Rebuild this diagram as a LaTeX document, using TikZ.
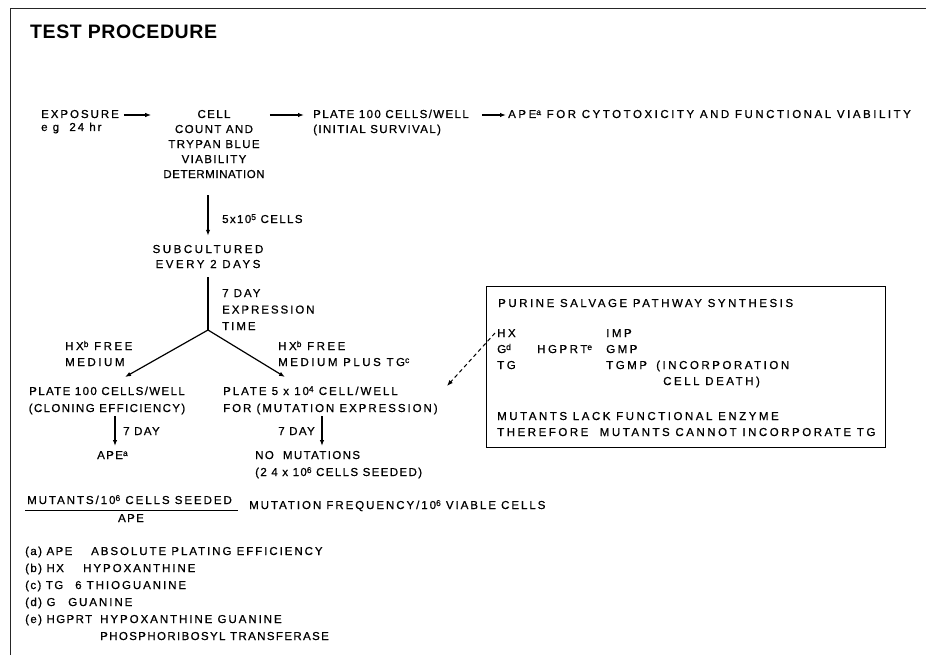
\documentclass[tikz,border=0pt]{standalone}
\usepackage{fontspec}
\setmainfont{Liberation Sans}
% three trackings of the same medium-weight face
\newfontfamily\mainfnt{Liberation Sans}[LetterSpace=12, FakeBold=0.8]
\newfontfamily\midfnt{Liberation Sans}[LetterSpace=17, FakeBold=0.8]
\newfontfamily\widefnt{Liberation Sans}[LetterSpace=22, FakeBold=0.8]
\newfontfamily\titlefnt{Liberation Sans}[LetterSpace=3]
\usetikzlibrary{arrows.meta,calc}
\newcommand\sps[1]{\raisebox{3pt}{\fontsize{8.5}{9}\selectfont #1}}
% footnote key set in a fixed-width slot
\newcommand\fnkey[2]{\makebox[#1][l]{\mainfnt #2}}

\begin{document}
\begin{tikzpicture}[x=1pt,y=-1pt,
  txt/.style={inner sep=0pt, anchor=base west, align=left,
              font=\mainfnt\fontsize{11.5}{17}\selectfont},
  ctxt/.style={txt, anchor=base, align=center},
  mtxt/.style={txt, font=\midfnt\fontsize{11.5}{17}\selectfont},
  wtxt/.style={txt, font=\widefnt\fontsize{11.5}{16}\selectfont},
  ttl/.style={inner sep=0pt, anchor=base west,
              font=\titlefnt\bfseries\fontsize{19.5}{22}\selectfont},
  arr/.style={-{Latex[length=6pt,width=4.5pt]}, line width=1.2pt},
  stem/.style={line width=1.4pt},
  dasharr/.style={-{Latex[length=6pt,width=4.5pt]}, line width=1pt, dash pattern=on 4pt off 3pt},
  frame/.style={line width=1pt, black!85}
]
\useasboundingbox (0,0) rectangle (926,658);

% page frame (top and left rules)
\draw[frame] (10,655) -- (10,9) -- (926,9);

\node[ttl] (title) at (30,39) {TEST PROCEDURE};

% first row (multi-line nodes are placed by the baseline of their last line)
\node[txt, font=\midfnt\fontsize{11.5}{13}\selectfont] (exp) at (41,131) {EXPOSURE\\e g\ \ 24 hr};
\node[ctxt, font=\mainfnt\fontsize{11.5}{15}\selectfont] (cell) at (214,178)
  {CELL\\COUNT AND\\TRYPAN BLUE\\VIABILITY\\{\addfontfeatures{LetterSpace=5}DETERMINATION}};
\node[txt, font=\mainfnt\fontsize{11.5}{15}\selectfont] (plate1) at (313,133)
  {PLATE 100 CELLS/WELL\\(INITIAL SURVIVAL)};
\node[wtxt] (apetop) at (508,118) {APE\sps{a} FOR CYTOTOXICITY AND FUNCTIONAL VIABILITY};

\coordinate (r1) at (0,115);
\draw[arr] ([xshift=5pt]exp.east |- r1) -- ([xshift=-12pt]cell.west |- r1);
\draw[arr] ([xshift=5pt]cell.east |- r1) -- ([xshift=-9pt]plate1.west |- r1);
\draw[arr] ([xshift=13pt]plate1.east |- r1) -- ([xshift=-2pt]apetop.west |- r1);

% subculture
\node[ctxt, font=\widefnt\fontsize{11.5}{15}\selectfont] (sub) at (208,268) {SUBCULTURED\\EVERY 2 DAYS};
\node[txt] (n5) at (222,223) {5x10\sps{5} CELLS};
\draw[arr] ([yshift=-17pt]cell.south -| sub.north) -- ([yshift=9pt]sub.north);

\coordinate (fork) at (208,330);
\draw[stem] ([yshift=-9pt]sub.south) -- (fork);
\node[txt, font=\midfnt\fontsize{11.5}{16.5}\selectfont] (exptime) at (222,330) {7 DAY\\EXPRESSION\\TIME};

% two branches
\node[wtxt] (hxl) at (65,366) {HX\sps{b} FREE\\MEDIUM};
\node[wtxt] (hxr) at (278,366) {HX\sps{b} FREE\\MEDIUM PLUS TG\sps{c}};
\node[ctxt] (clon) at (107,412) {PLATE 100 CELLS/WELL\\(CLONING EFFICIENCY)};
\node[mtxt] (mut) at (223,412) {PLATE 5 x 10\sps{4} CELL/WELL\\FOR (MUTATION EXPRESSION)};
\draw[arr] (fork) -- ($(clon.base)+(18,-35)$);
\draw[arr] (fork) -- ($(mut.base west)+(62,-35)$);

% seven-day plating
\node[txt] (apel) at (97,459) {APE\sps{a}};
\node[txt] (nomut) at (255,476) {NO\ \ MUTATIONS\\(2 4 x 10\sps{6} CELLS SEEDED)};
\node[txt] (d7l) at (123,435) {7 DAY};
\node[txt, anchor=base east] (d7r) at (315,435) {7 DAY};
\draw[arr] ($(clon.base)+(8,4)$) -- ($(apel.base west)+(18,-13)$);
\draw[arr] ($(mut.base west)+(99,4)$) -- ($(nomut.base west)+(67,-30)$);

% mutation frequency
\node[mtxt] (num) at (27,504) {MUTANTS/10\sps{6} CELLS SEEDED};
\node[ctxt] (den) at (131,522) {APE};
\draw[line width=0.8pt] ($(num.base west)+(-2,6)$) -- ($(num.base west)+(211,6)$);
\node[mtxt] (freq) at (249,509) {MUTATION FREQUENCY/10\sps{6} VIABLE CELLS};

% footnotes
\node[mtxt] (fa) at (25,555) {\fnkey{66pt}{(a) APE}ABSOLUTE PLATING EFFICIENCY};
\node[mtxt] (fb) at (25,572) {\fnkey{58pt}{(b) HX}HYPOXANTHINE};
\node[mtxt] (fc) at (25,589) {\fnkey{50pt}{(c) TG}6 THIOGUANINE};
\node[mtxt] (fd) at (25,606) {\fnkey{43pt}{(d) G}GUANINE};
\node[mtxt] (fe) at (25,640) {\fnkey{75pt}{(e) HGPRT}HYPOXANTHINE GUANINE\\
  \hspace*{75pt}{\addfontfeatures{LetterSpace=12}PHOSPHORIBOSYL TRANSFERASE}};

% purine salvage pathway box
\node[draw, line width=0.8pt, inner sep=0pt, minimum width=399pt, minimum height=161pt,
      anchor=north west] (pbox) at (486,286) {};
\node[wtxt] (pur) at (498,307) {PURINE SALVAGE PATHWAY SYNTHESIS};
\node[wtxt] (hx) at (497,337) {HX};
\node[wtxt] (gd) at (497,353) {G\sps{d}};
\node[wtxt] (tg) at (497,369) {TG};
\node[wtxt] (hgprt) at (537,353) {HGPRT\sps{e}};
\node[wtxt] (imp) at (606,337) {IMP};
\node[wtxt] (gmp) at (606,353) {GMP};
\node[wtxt] (tgmp) at (606,369) {TGMP};
\node[wtxt] (incorp) at (656,385) {(INCORPORATION\\\hspace*{7pt}CELL DEATH)};
\node[wtxt] (mutl) at (497,436) {MUTANTS LACK FUNCTIONAL ENZYME\\THEREFORE\ \ MUTANTS CANNOT INCORPORATE TG};

\coordinate (dashend) at (447,386);
\draw[dasharr] ([xshift=-2pt]hx.west) -- (dashend);
\end{tikzpicture}
\end{document}
